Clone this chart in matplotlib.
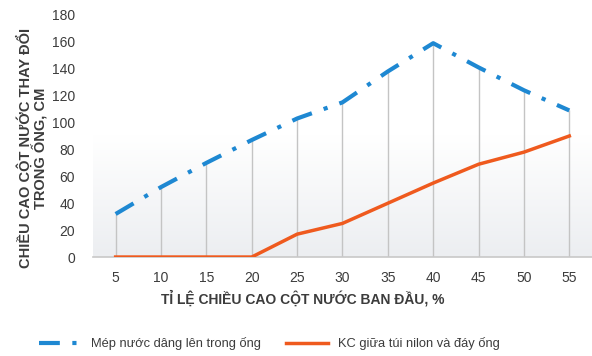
import numpy as np
import matplotlib.pyplot as plt
from matplotlib.colors import LinearSegmentedColormap

# du lieu doc tu hinh
ti_le = [5, 10, 15, 20, 25, 30, 35, 40, 45, 50, 55]
mep_nuoc = [32, 52, 70, 87, 103, 115, 138, 159, 141, 124, 109]
kc_tui = [0, 0, 0, 0, 17, 25, 40, 55, 69, 78, 90]
y_ticks = [0, 20, 40, 60, 80, 100, 120, 140, 160, 180]

plt.rcParams['font.family'] = ['Liberation Sans', 'DejaVu Sans']
text_color = '#3c3c3c'

fig = plt.figure(figsize=(5.92, 3.56), dpi=100)
ax = fig.add_axes([0.157, 0.278, 0.843, 0.68])

# nen gradient nhat o phan duoi
grad = np.linspace(0, 1, 256).reshape(-1, 1)
cmap = LinearSegmentedColormap.from_list('bg', ['#eceef1', '#ffffff', '#ffffff'])
ax.imshow(grad, extent=[2.5, 57.5, 0, 180], origin='lower', aspect='auto',
          cmap=cmap, zorder=0)

# duong thang dung tu 0 len diem xanh
ax.vlines(ti_le, 0, mep_nuoc, colors='#c4c4c4', linewidth=1, zorder=1)

l1, = ax.plot(ti_le, mep_nuoc, color='#1e88d2', linewidth=3,
              linestyle=(0, (5, 3, 1, 3)), zorder=3,
              label='Mép nước dâng lên trong ống')
l2, = ax.plot(ti_le, kc_tui, color='#ef5a1e', linewidth=2.5, zorder=3,
              label='KC giữa túi nilon và đáy ống')

ax.set_xlim(2.5, 57.5)
ax.set_ylim(0, 180)
ax.set_xticks(ti_le)
ax.set_yticks(y_ticks)
ax.tick_params(length=0, labelsize=10, colors=text_color)
ax.tick_params(axis='y', pad=13)
ax.tick_params(axis='x', pad=10)

for s in ['top', 'right', 'left']:
    ax.spines[s].set_visible(False)
ax.spines['bottom'].set_color('#c8c8c8')
ax.spines['bottom'].set_linewidth(1.2)

ax.set_xlabel('TỈ LỆ CHIỀU CAO CỘT NƯỚC BAN ĐẦU, %', fontsize=10,
              fontweight='bold', color=text_color)
ax.xaxis.set_label_coords(0.42, -0.135)
ax.set_ylabel('CHIỀU CAO CỘT NƯỚC THAY ĐỔI\nTRONG ỐNG, CM', fontsize=10.5,
              fontweight='bold', color=text_color, linespacing=0.95)
ax.yaxis.set_label_coords(-0.09, 0.45)

fig.legend(handles=[l1, l2], loc='center', bbox_to_anchor=(0.455, 0.035),
           ncol=2, frameon=False, fontsize=9.3, handlelength=3.2,
           columnspacing=2, labelcolor=text_color)

fig.savefig('out.png', dpi=100)
